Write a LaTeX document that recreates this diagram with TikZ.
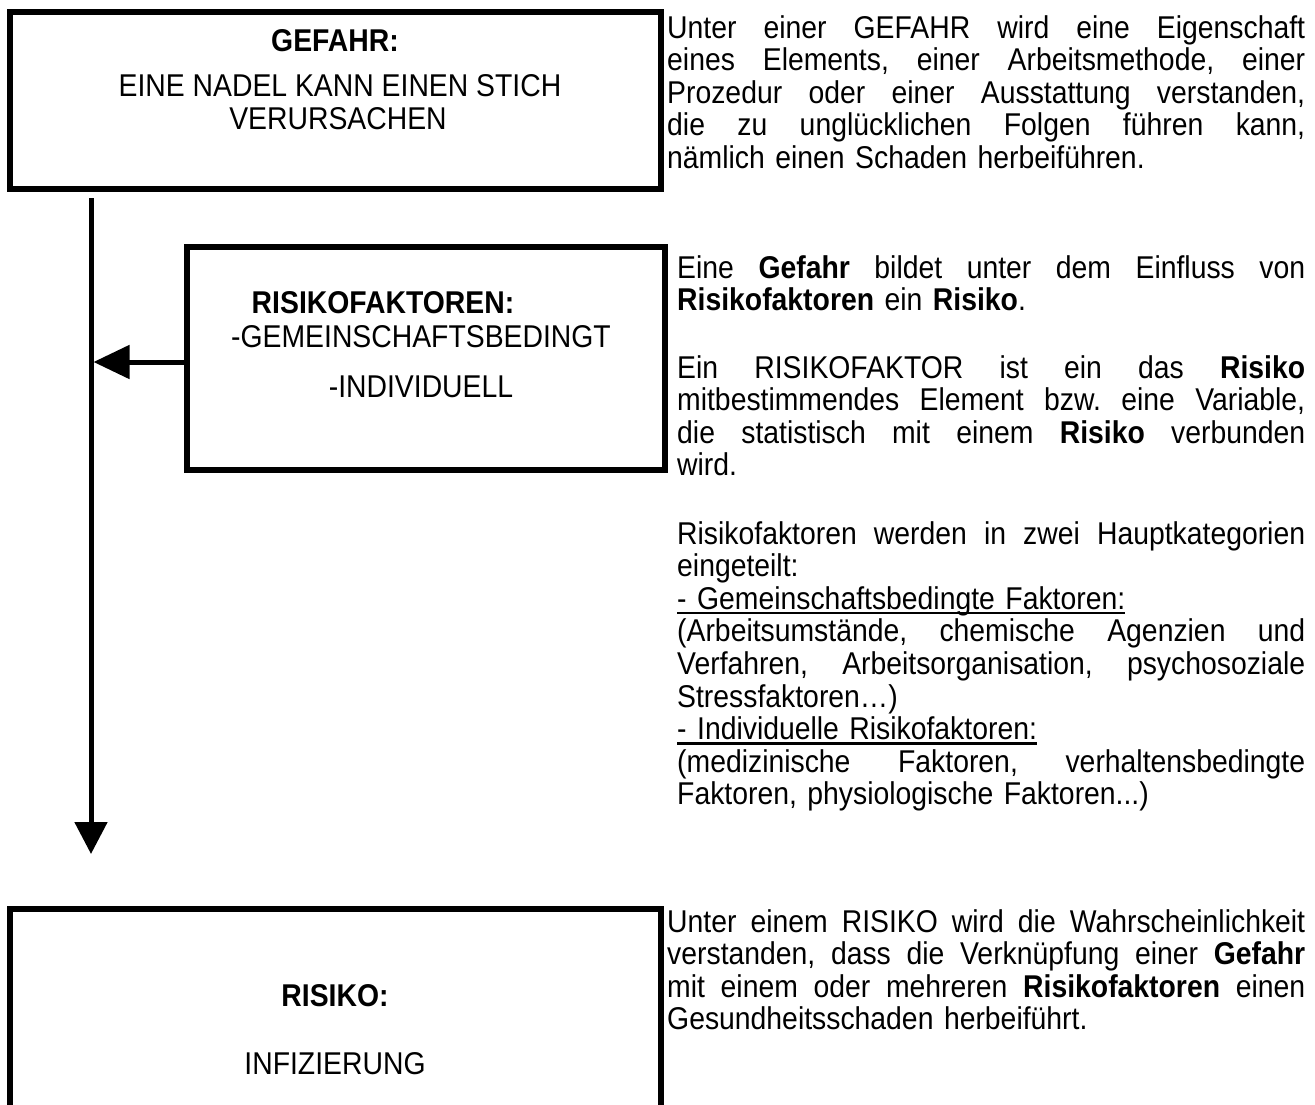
\documentclass[tikz,border=0pt]{standalone}
\usepackage{fontspec}
\setmainfont{Liberation Sans}[FakeStretch=0.9]
\usetikzlibrary{arrows.meta}
\frenchspacing
\newsavebox\ulbox
\newcommand\myul[1]{\leavevmode\sbox\ulbox{#1}\rlap{\rule[-5pt]{\wd\ulbox}{2.6pt}}\usebox\ulbox}
\newcommand\jl[2]{\makebox[#1][s]{\spaceskip=0.28em plus 10em\relax\xspaceskip=0pt\relax #2}}
\begin{document}
\begin{tikzpicture}[x=1pt,y=-1pt,
  box/.style={draw, line width=6pt, inner sep=0pt, outer sep=0pt, rectangle},
  boxtxt/.style={font=\fontsize{31.5}{32.6}\selectfont, inner sep=0pt, anchor=base},
  para/.style={font=\fontsize{31.5}{32.6}\selectfont, inner sep=0pt, anchor=base west, align=left},
  conn/.style={line width=5pt, -{Triangle[length=32pt,width=32pt]}}]
\path[use as bounding box] (0,0) rectangle (1315,1104);
\clip (0,0) rectangle (1315,1104);

% boxes
\node[box, minimum width=651pt, minimum height=177pt] (gef) at (335.5,100.5) {};
\node[box, minimum width=478pt, minimum height=223pt] (rf) at (426,358.5) {};
\node[box, minimum width=651pt, minimum height=220pt] (ris) at (335.5,1019) {};

% box texts
\node[boxtxt] (gefT) at (335,51) {\textbf{GEFAHR:}};
\node[boxtxt] (gef1) at (340,96) {EINE NADEL KANN EINEN STICH};
\node[boxtxt] (gef2) at (338,129) {VERURSACHEN};
\node[boxtxt] (rfT) at (383,313) {\textbf{RISIKOFAKTOREN:}};
\node[boxtxt] (rf1) at (421,347) {-GEMEINSCHAFTSBEDINGT};
\node[boxtxt] (rf2) at (421,397) {-INDIVIDUELL};
\node[boxtxt] (risT) at (335,1006) {\textbf{RISIKO:}};
\node[boxtxt] (ris1) at (335,1074) {INFIZIERUNG};

% connectors
\coordinate (vtop) at (91,198);
\coordinate (vend) at (91,854);
\draw[conn] (vtop) -- (vend);
\coordinate (hend) at (93.5,362);
\draw[line width=5pt, -{Triangle[length=36pt,width=33pt]}] (rf.west |- hend) -- (hend);

% right column texts
\node[para, text width=638pt] (d1) at (667,38) {%
\jl{638pt}{Unter einer GEFAHR wird eine Eigenschaft}\\
\jl{638pt}{eines Elements, einer Arbeitsmethode, einer}\\
\jl{638pt}{Prozedur oder einer Ausstattung verstanden,}\\
\jl{638pt}{die zu unglücklichen Folgen führen kann,}\\
nämlich einen Schaden herbeiführen.};

\node[para, text width=628pt] (d2) at (677,278) {%
\jl{628pt}{Eine \textbf{Gefahr} bildet unter dem Einfluss von}\\
\textbf{Risikofaktoren} ein \textbf{Risiko}.};

\node[para, text width=628pt] (d3) at (677,378) {%
\jl{628pt}{Ein RISIKOFAKTOR ist ein das \textbf{Risiko}}\\
\jl{628pt}{mitbestimmendes Element bzw. eine Variable,}\\
\jl{628pt}{die statistisch mit einem \textbf{Risiko} verbunden}\\
wird.};

\node[para, text width=628pt] (d4) at (677,544) {%
\jl{628pt}{Risikofaktoren werden in zwei Hauptkategorien}\\
eingeteilt:\\
\myul{- Gemeinschaftsbedingte Faktoren:}\\
\jl{628pt}{(Arbeitsumstände, chemische Agenzien und}\\
\jl{628pt}{Verfahren, Arbeitsorganisation, psychosoziale}\\
Stressfaktoren…)\\
\myul{- Individuelle Risikofaktoren:}\\
\jl{628pt}{(medizinische Faktoren, verhaltensbedingte}\\
Faktoren, physiologische Faktoren...)};

\node[para, text width=638pt] (d5) at (667,932) {%
\jl{638pt}{Unter einem RISIKO wird die Wahrscheinlichkeit}\\
\jl{638pt}{verstanden, dass die Verknüpfung einer \textbf{Gefahr}}\\
\jl{638pt}{mit einem oder mehreren \textbf{Risikofaktoren} einen}\\
Gesundheitsschaden herbeiführt.};
\end{tikzpicture}
\end{document}
